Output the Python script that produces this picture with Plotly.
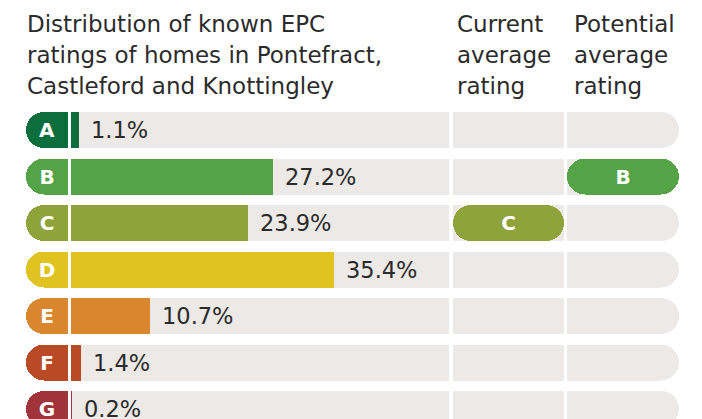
import plotly.graph_objects as go

# ---- data ----
RATINGS = ["A", "B", "C", "D", "E", "F", "G"]
SHARES = [1.1, 27.2, 23.9, 35.4, 10.7, 1.4, 0.2]
COLORS = ["#0c6e3c", "#54a346", "#8fa33b", "#e0c321", "#d8872f", "#b84b26", "#a1333a"]
CURRENT_AVG = "C"
POTENTIAL_AVG = "B"
TITLE_LINES = ["Distribution of known EPC",
               "ratings of homes in Pontefract,",
               "Castleford and Knottingley"]
CURRENT_LINES = ["Current", "average", "rating"]
POTENTIAL_LINES = ["Potential", "average", "rating"]

# ---- style / layout constants ----
W, H = 702, 419
FONT = "DejaVu Sans"
TRACK = "#ece9e6"
TEXT = "#2b2b2b"
TRACK_MAX = 50.9          # percent at the right end of the distribution column
BAR_W = 0.774
RADIUS = 18
PITCH = 46.5
FIRST_CENTER = 130

def px(x):
    return x / W

color_of = dict(zip(RATINGS, COLORS))
n = len(RATINGS)

fig = go.Figure()

# letter badges (bars growing leftwards: only the far, left end is rounded)
fig.add_trace(go.Bar(
    y=RATINGS, x=[-1] * n, orientation="h", xaxis="x", yaxis="y",
    width=BAR_W, marker=dict(color=COLORS, cornerradius=RADIUS, line=dict(width=0)),
    text=RATINGS, textposition="inside", insidetextanchor="middle",
    textfont=dict(family=FONT, size=20, color="white", weight="bold"),
    textangle=0, hoverinfo="skip", showlegend=False))

# distribution track
fig.add_trace(go.Bar(
    y=RATINGS, x=[TRACK_MAX] * n, orientation="h", xaxis="x2", yaxis="y",
    width=BAR_W, marker=dict(color=TRACK, line=dict(width=0)),
    hoverinfo="skip", showlegend=False))
# distribution bars
fig.add_trace(go.Bar(
    y=RATINGS, x=SHARES, orientation="h", xaxis="x2", yaxis="y",
    width=BAR_W, marker=dict(color=COLORS, line=dict(width=0)),
    hoverinfo="skip", showlegend=False))

# current column track
fig.add_trace(go.Bar(
    y=RATINGS, x=[1] * n, orientation="h", xaxis="x3", yaxis="y",
    width=BAR_W, marker=dict(color=TRACK, line=dict(width=0)),
    hoverinfo="skip", showlegend=False))
# potential column track (rounded right end)
fig.add_trace(go.Bar(
    y=RATINGS, x=[1] * n, orientation="h", xaxis="x4", yaxis="y",
    width=BAR_W, marker=dict(color=TRACK, cornerradius=RADIUS, line=dict(width=0)),
    hoverinfo="skip", showlegend=False))

# pills (floating bars with explicit base: both ends rounded)
for axis, rating in (("x3", CURRENT_AVG), ("x4", POTENTIAL_AVG)):
    fig.add_trace(go.Bar(
        y=[rating], x=[1], base=[0], orientation="h", xaxis=axis, yaxis="y",
        width=BAR_W, marker=dict(color=color_of[rating], cornerradius=RADIUS,
                                 line=dict(width=0)),
        text=[rating], textposition="inside", insidetextanchor="middle",
        textfont=dict(family=FONT, size=20, color="white", weight="bold"),
        textangle=0, hoverinfo="skip", showlegend=False))

# percentage labels
for r, v in zip(RATINGS, SHARES):
    fig.add_annotation(x=v, y=r, xref="x2", yref="y", text=f"{v}%",
                       showarrow=False, xanchor="left", yanchor="middle", xshift=10,
                       font=dict(family=FONT, size=22.5, color=TEXT))

# headers
LINE_Y = [23.5, 55, 86]
for x0, lines in ((27, TITLE_LINES), (457, CURRENT_LINES), (574, POTENTIAL_LINES)):
    for yy, line in zip(LINE_Y, lines):
        fig.add_annotation(x=px(x0), y=1 - yy / H, xref="paper", yref="paper",
                           text=line, showarrow=False, xanchor="left", yanchor="middle",
                           xshift=-2, font=dict(family=FONT, size=23, color=TEXT))

hidden = dict(showgrid=False, zeroline=False, showticklabels=False, showline=False,
              fixedrange=True)
y_top = -FIRST_CENTER / PITCH
y_bot = (H - FIRST_CENTER) / PITCH
fig.update_layout(
    width=W, height=H, margin=dict(l=0, r=0, t=0, b=0),
    paper_bgcolor="white", plot_bgcolor="white",
    barmode="overlay", bargap=0, showlegend=False, hovermode=False,
    xaxis=dict(domain=[px(26), px(68)], range=[-1, 0], **hidden),
    xaxis2=dict(domain=[px(71), px(449)], range=[0, TRACK_MAX], anchor="y", **hidden),
    xaxis3=dict(domain=[px(453), px(564)], range=[0, 1], anchor="y", **hidden),
    xaxis4=dict(domain=[px(567), px(679)], range=[0, 1], anchor="y", **hidden),
    yaxis=dict(type="category", categoryorder="array", categoryarray=RATINGS,
               range=[y_bot, y_top], **hidden),
)

fig.write_html("out.html", config={"displayModeBar": False, "staticPlot": True},
               post_script="document.body.style.margin='0px';")
